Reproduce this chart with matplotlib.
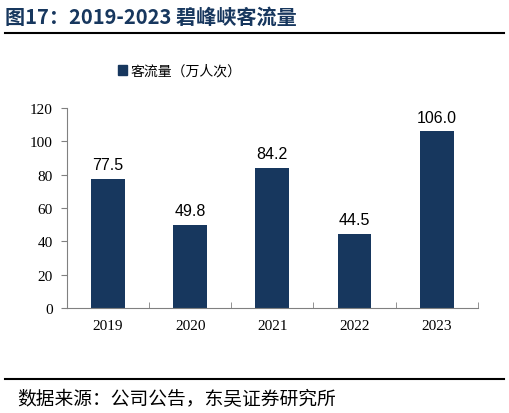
import matplotlib.pyplot as plt
from matplotlib.lines import Line2D
from matplotlib.patches import Patch

years = ['2019', '2020', '2021', '2022', '2023']
visitors = [77.5, 49.8, 84.2, 44.5, 106.0]
yticks = [0, 20, 40, 60, 80, 100, 120]

navy = '#17375E'
cjk = ['Noto Sans CJK SC', 'DejaVu Sans']

fig = plt.figure(figsize=(5.1, 4.14), dpi=100)
ax = fig.add_axes([0.131, 0.2536, 0.806, 0.4831])

x = range(len(years))
bars = ax.bar(x, visitors, width=0.41, color=navy, zorder=2)

# подписи значений над столбцами
for xi, v in zip(x, visitors):
    ax.text(xi, v + 4, f'{v:.1f}', ha='center', va='bottom',
            fontsize=11.5, family='Liberation Sans', color='#000000')

ax.set_xlim(-0.5, len(years) - 0.5)
ax.set_ylim(0, 120)
ax.set_yticks(yticks)
ax.set_yticklabels([str(t) for t in yticks], family='Liberation Serif', fontsize=11)
ax.tick_params(axis='y', direction='out', length=4, color='#808080', pad=6)

# подписи годов без засечек, засечки на границах категорий
ax.set_xticks(list(x))
ax.set_xticklabels(years, family='Liberation Serif', fontsize=11)
ax.tick_params(axis='x', length=0, pad=8)
ax.set_xticks([i + 0.5 for i in range(len(years))], minor=True)
ax.tick_params(axis='x', which='minor', direction='in', length=4, color='#808080')

for side in ['top', 'right']:
    ax.spines[side].set_visible(False)
for side in ['left', 'bottom']:
    ax.spines[side].set_color('#808080')
    ax.spines[side].set_linewidth(0.8)

leg = ax.legend([Patch(color=navy)], ['客流量（万人次）'],
                loc='center left', bbox_to_anchor=(0.093, 1.185),
                frameon=False, prop={'family': cjk, 'size': 10},
                handlelength=0.7, handleheight=0.7, handletextpad=0.2)

# заголовок и линии
fig.text(0.01, 0.958, '图17：2019-2023 碧峰峡客流量', ha='left', va='center',
         fontsize=14.5, fontweight='bold', color=navy, family=cjk)
fig.add_artist(Line2D([0.01, 0.988], [0.919, 0.919], color='#000000', lw=1.5))
fig.add_artist(Line2D([0.01, 0.988], [0.082, 0.082], color='#000000', lw=1.5))
fig.text(0.033, 0.035, '数据来源：公司公告，东吴证券研究所', ha='left', va='center',
         fontsize=13.5, family=cjk, color='#000000')

fig.savefig('out.png', dpi=100)
